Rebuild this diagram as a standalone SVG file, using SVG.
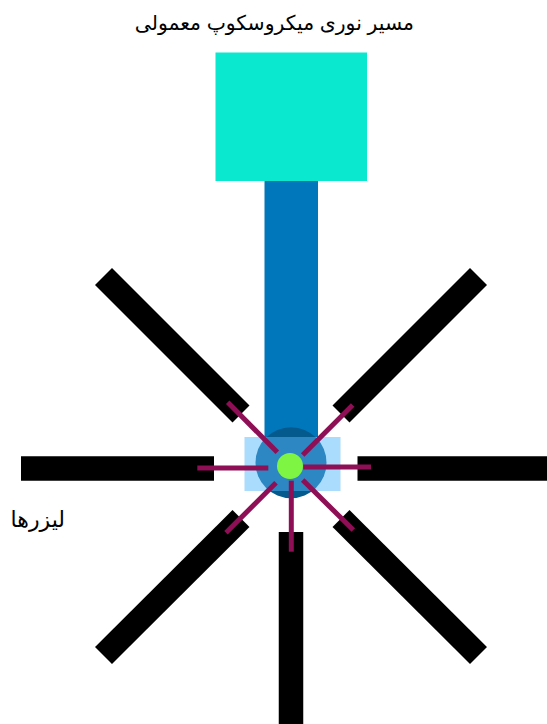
<svg xmlns="http://www.w3.org/2000/svg" width="547" height="724" viewBox="0 0 547 724">
  <style>
    .laser{stroke:#000;stroke-width:24.5;fill:none}
    .diag{stroke-width:24}
    .beam{stroke:#8e0f55;stroke-width:5;fill:none}
    text{font-family:"Liberation Sans","Noto Sans","DejaVu Sans",sans-serif;fill:#000;direction:rtl;text-anchor:start}
  </style>
  <defs>
    <clipPath id="rc"><rect x="244.5" y="437" width="96" height="54"/></clipPath>
  </defs>
  <rect width="547" height="724" fill="#fff"/>
  <g id="title"><text x="414" y="30" font-size="20.4">مسیر نوری میکروسکوپ معمولی</text></g>
  <g id="lasers-label"><text x="65" y="527" font-size="22">لیزرها</text></g>
  <g id="camera"><rect x="215.5" y="52.5" width="151.5" height="128.5" fill="#0be8d0"/></g>
  <g id="objective"><rect x="264.5" y="181" width="53.500" height="262" fill="#0077bb"/></g>
  <g id="lens">
    <circle cx="291" cy="462.700" r="35.500" fill="#045a8d"/>
    <rect x="244.500" y="437" width="96" height="54" fill="#a9dcfd"/>
    <circle cx="291" cy="462.700" r="35.500" fill="#2c87c2" clip-path="url(#rc)"/>
  </g>
  <g id="laser-left"><line class="laser" x1="21" y1="468.500" x2="214" y2="468.500"/></g>
  <g id="laser-right"><line class="laser" x1="357.500" y1="468.500" x2="547" y2="468.500"/></g>
  <g id="laser-bottom"><line class="laser" x1="291" y1="532" x2="291" y2="724"/></g>
  <g id="laser-upper-left"><line class="laser diag" x1="103.500" y1="276.500" x2="241" y2="414"/></g>
  <g id="laser-upper-right"><line class="laser diag" x1="478.500" y1="276.500" x2="341" y2="414"/></g>
  <g id="laser-lower-left"><line class="laser diag" x1="241" y1="518.500" x2="103.500" y2="655.500"/></g>
  <g id="laser-lower-right"><line class="laser diag" x1="341" y1="518.500" x2="478.500" y2="655.500"/></g>
  <g id="connectors">
    <line class="beam" x1="227.700" y1="402.300" x2="277.300" y2="452.300"/>
    <line class="beam" x1="352.700" y1="405" x2="302.700" y2="455"/>
    <line class="beam" x1="197.300" y1="468" x2="268.300" y2="468"/>
    <line class="beam" x1="303.300" y1="467" x2="371" y2="467"/>
    <line class="beam" x1="291.300" y1="480.700" x2="291.300" y2="551.700"/>
    <line class="beam" x1="276" y1="482.700" x2="226" y2="532.700"/>
    <line class="beam" x1="302.700" y1="480" x2="353.300" y2="530"/>
  </g>
  <g id="sample"><circle cx="290" cy="466" r="13" fill="#7ef542"/></g>
</svg>
